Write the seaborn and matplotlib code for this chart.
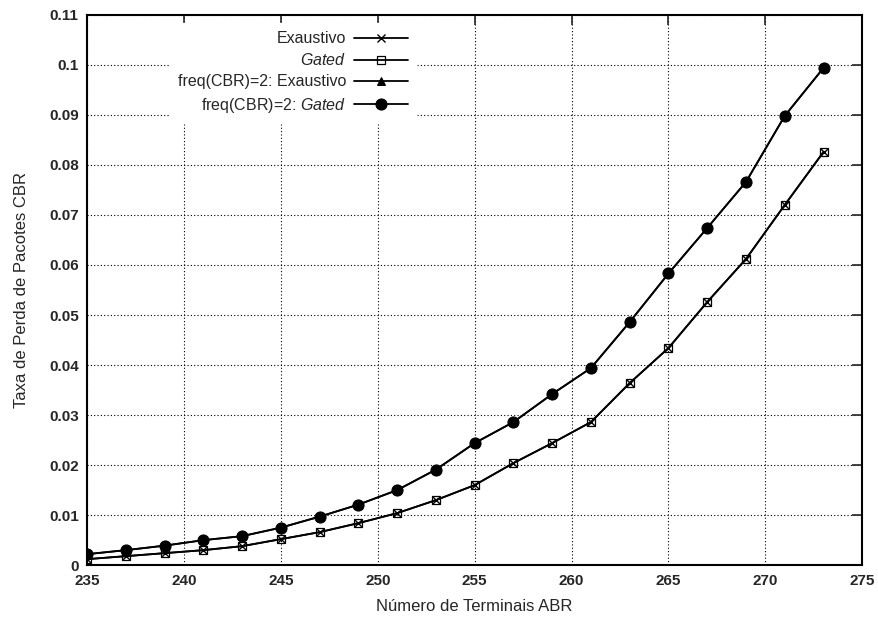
import numpy as np
import pandas as pd
import matplotlib
matplotlib.use("Agg")
import matplotlib.pyplot as plt
from matplotlib.ticker import FuncFormatter
import seaborn as sns

# numero de terminais ABR
terminais = [235, 237, 239, 241, 243, 245, 247, 249, 251, 253,
             255, 257, 259, 261, 263, 265, 267, 269, 271, 273]

# taxa de perda de pacotes CBR
exaustivo = [0.0012, 0.0018, 0.0024, 0.0030, 0.0038, 0.0052, 0.0066, 0.0084, 0.0104, 0.0130,
             0.0160, 0.0204, 0.0244, 0.0286, 0.0364, 0.0434, 0.0526, 0.0612, 0.0720, 0.0826]
gated = [0.0012, 0.0018, 0.0024, 0.0030, 0.0038, 0.0052, 0.0066, 0.0084, 0.0104, 0.0130,
         0.0160, 0.0204, 0.0244, 0.0286, 0.0364, 0.0434, 0.0526, 0.0612, 0.0720, 0.0826]
freq2_exaustivo = [0.0022, 0.0030, 0.0039, 0.0050, 0.0058, 0.0075, 0.0097, 0.0121, 0.0150, 0.0191,
                   0.0244, 0.0286, 0.0342, 0.0394, 0.0486, 0.0583, 0.0674, 0.0766, 0.0898, 0.0994]
freq2_gated = [0.0022, 0.0030, 0.0039, 0.0050, 0.0058, 0.0075, 0.0097, 0.0121, 0.0150, 0.0191,
               0.0244, 0.0286, 0.0342, 0.0394, 0.0486, 0.0583, 0.0674, 0.0766, 0.0898, 0.0994]

labels = ['Exaustivo', r'$\it{Gated}$', 'freq(CBR)=2: Exaustivo', r'freq(CBR)=2: $\it{Gated}$']
series = [exaustivo, gated, freq2_exaustivo, freq2_gated]
estilos = [dict(marker='x', markersize=6, markeredgewidth=1.0),
           dict(marker='s', markersize=6, markerfacecolor='none', markeredgewidth=0.9),
           dict(marker='^', markersize=6),
           dict(marker='o', markersize=8)]

sns.set_style("white")
plt.rcParams['font.family'] = ['Liberation Sans', 'DejaVu Sans']
plt.rcParams['mathtext.fontset'] = 'custom'
plt.rcParams['mathtext.it'] = 'Liberation Sans:italic'
plt.rcParams['mathtext.rm'] = 'Liberation Sans'

fig = plt.figure(figsize=(8.79, 6.17), dpi=100)
ax = fig.add_axes([0.099, 0.084, 0.882, 0.892])

for vals, lab, st in zip(series, labels, estilos):
    df = pd.DataFrame({'x': terminais, 'y': vals})
    sns.lineplot(data=df, x='x', y='y', ax=ax, color='black', linewidth=1.3,
                 label=lab, markeredgecolor='black', **st)

ax.set_xlim(235, 275)
ax.set_ylim(0, 0.11)
ax.set_xticks(np.arange(235, 276, 5))
ax.set_yticks(np.arange(0, 0.111, 0.01))
ax.yaxis.set_major_formatter(FuncFormatter(lambda v, p: '%g' % round(v, 2)))
ax.tick_params(direction='in', top=True, right=True, length=7, width=1.2,
               labelsize=11, pad=6)
for lbl in ax.get_xticklabels() + ax.get_yticklabels():
    lbl.set_fontweight('bold')
ax.grid(True, color='black', linestyle=(0, (1, 2)), linewidth=0.8)
for s in ax.spines.values():
    s.set_linewidth(1.5)
    s.set_color('black')

ax.set_xlabel('Número de Terminais ABR', fontsize=12, labelpad=8)
ax.set_ylabel('Taxa de Perda de Pacotes CBR', fontsize=12, labelpad=14)

leg = ax.legend(loc='upper right', bbox_to_anchor=(0.435, 0.999), markerfirst=False,
                frameon=True, fancybox=False, edgecolor='white', facecolor='white',
                framealpha=1, fontsize=11.5, handlelength=3.4, labelspacing=0.38,
                borderpad=0.5, handletextpad=0.5)
leg._legend_box._children[-1]._children[0].align = 'right'

fig.savefig('out.png', dpi=100)
